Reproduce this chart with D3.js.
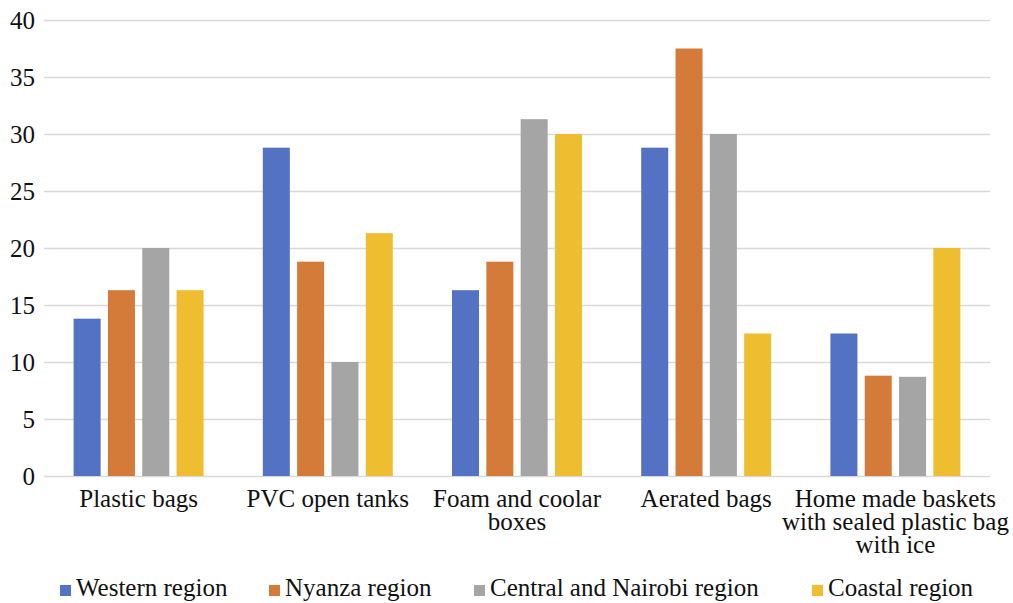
<!DOCTYPE html>
<html>
<head>
<meta charset="utf-8">
<script src="https://cdn.jsdelivr.net/npm/d3@7"></script>
<style>
  body { margin: 0; background: #fff; }
  svg text { font-family: "Liberation Serif", "Times New Roman", serif; fill: #111; }
</style>
</head>
<body>
<div id="chart"></div>
<script>
/* Grouped bar chart: storage methods by region */

const categories = ["Plastic bags", "PVC open tanks", "Foam and coolar boxes", "Aerated bags",
  "Home made baskets with sealed plastic bag with ice"];
const seriesNames = ["Western region", "Nyanza region", "Central and Nairobi region", "Coastal region"];

const western = [13.8, 28.8, 16.3, 28.8, 12.5];
const nyanza = [16.3, 18.8, 18.8, 37.5, 8.8];
const central = [20.0, 10.0, 31.3, 30.0, 8.7];
const coastal = [16.3, 21.3, 30.0, 12.5, 20.0];

const yTicks = [0, 5, 10, 15, 20, 25, 30, 35, 40];

const seriesValues = [western, nyanza, central, coastal];
const colors = ["#5472C4", "#D57B3A", "#A5A5A5", "#EFBE30"];

const width = 1013,
  height = 603,
  margin = ({ top: 20, right: 23, bottom: 127, left: 44 });
const fontSize = 25;

const svg = d3.select("#chart")
  .append("svg")
  .attr("width", width)
  .attr("height", height);

let x0 = d3.scaleBand()
  .domain(categories)
  .range([margin.left, width - margin.right])
  .paddingInner(0.313)
  .paddingOuter(0.1565);

let x1 = d3.scaleBand()
  .domain(seriesNames)
  .range([0, x0.bandwidth()])
  .paddingInner(0.213);

let y = d3.scaleLinear()
  .domain([0, 40])
  .range([height - margin.bottom, margin.top]);

// gridlines + y labels
const yAxis = svg.append("g")
  .attr("transform", `translate(${margin.left},0)`)
  .call(d3.axisLeft(y)
    .tickValues(yTicks)
    .tickSize(-(width - margin.left - margin.right))
    .tickPadding(9)
    .tickSizeOuter(0));
yAxis.select(".domain").remove();
yAxis.selectAll(".tick line").attr("stroke", "#d9d9d9").attr("stroke-width", 1.5);
yAxis.selectAll(".tick text")
  .attr("font-size", fontSize)
  .attr("fill", "#111");

// bars
const groups = svg.append("g")
  .selectAll("g")
  .data(categories)
  .join("g")
  .attr("transform", d => `translate(${x0(d)},0)`);

groups.selectAll("rect")
  .data((c, i) => seriesNames.map((s, j) => ({ s, j, v: seriesValues[j][i] })))
  .join("rect")
  .attr("x", d => x1(d.s))
  .attr("y", d => y(d.v))
  .attr("width", x1.bandwidth())
  .attr("height", d => y(0) - y(d.v))
  .attr("fill", d => colors[d.j]);

// category labels, wrapped
function wrap(textSel, maxW) {
  textSel.each(function () {
    const t = d3.select(this);
    const words = t.text().split(" ");
    t.text(null);
    let line = [];
    let tspan = t.append("tspan").attr("x", 0).attr("dy", 0);
    for (const w of words) {
      line.push(w);
      tspan.text(line.join(" "));
      if (tspan.node().getComputedTextLength() > maxW && line.length > 1) {
        line.pop();
        tspan.text(line.join(" "));
        line = [w];
        tspan = t.append("tspan").attr("x", 0).attr("dy", 23).text(w);
      }
    }
  });
}

svg.append("g")
  .selectAll("text")
  .data(categories)
  .join("text")
  .attr("transform", d => `translate(${x0(d) + x0.bandwidth() / 2},${y(0) + 31})`)
  .attr("text-anchor", "middle")
  .attr("font-size", fontSize)
  .text(d => d)
  .call(wrap, 232);

// legend
const legendX = [60, 269, 474, 812]; // marker positions
const legend = svg.append("g")
  .selectAll("g")
  .data(seriesNames)
  .join("g")
  .attr("transform", (d, i) => `translate(${legendX[i]},${height - 18})`);

legend.append("rect")
  .attr("x", 0)
  .attr("y", 0)
  .attr("width", 11)
  .attr("height", 11)
  .attr("fill", (d, i) => colors[i]);

legend.append("text")
  .attr("x", 16)
  .attr("y", 11)
  .attr("font-size", fontSize)
  .text(d => d);
</script>
</body>
</html>
